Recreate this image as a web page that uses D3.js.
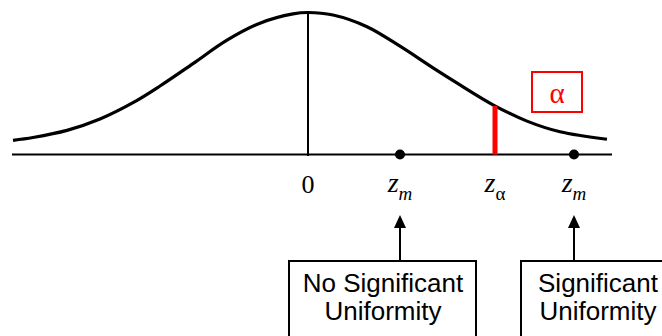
<!DOCTYPE html>
<html>
<head>
<meta charset="utf-8">
<script src="https://cdn.jsdelivr.net/npm/d3@7"></script>
<style>
  body { margin: 0; background: #fff; }
  svg { display: block; }
</style>
</head>
<body>
<svg id="chart" width="662" height="336"></svg>
<script>
// curve (z units, relative density)
const curveZ = [-2.95, -2.75, -2.41, -2.08, -1.75, -1.48, -1.15, -0.81, -0.48, -0.15, 0,
  0.25, 0.59, 0.92, 1.25, 1.52, 1.85, 2.19, 2.52, 2.99];
const curveDensity = [0.040, 0.048, 0.068, 0.100, 0.146, 0.193, 0.256, 0.322, 0.370, 0.396, 0.400,
  0.393, 0.360, 0.305, 0.244, 0.196, 0.140, 0.094, 0.064, 0.043];

const axisExtent = [-2.96, 3.04];
const peakDensity = 0.4;

const zmValues = [0.92, 2.66];
const zAlpha = 1.87;
const alphaDensity = 0.137;

const boxLabels = [
  ["No Significant", "Uniformity"],
  ["Significant", "Uniformity"]
];

const svg = d3.select("#chart");

const x = d3.scaleLinear().domain([-3, 3]).range([8, 608]);
const y = d3.scaleLinear().domain([0, 0.4]).range([154.5, 12.5]);

// horizontal axis
svg.append("line")
  .attr("x1", x(axisExtent[0])).attr("x2", x(axisExtent[1]))
  .attr("y1", y(0)).attr("y2", y(0))
  .attr("stroke", "#000").attr("stroke-width", 2);

// centre line at the mean
svg.append("line")
  .attr("x1", x(0)).attr("x2", x(0))
  .attr("y1", y(peakDensity)).attr("y2", y(0) + 1.5)
  .attr("stroke", "#000").attr("stroke-width", 2);

// density curve
const line = d3.line()
  .x((d, i) => x(curveZ[i]))
  .y(d => y(d))
  .curve(d3.curveCatmullRom.alpha(0.5));

svg.append("path")
  .attr("d", line(curveDensity))
  .attr("fill", "none")
  .attr("stroke", "#000")
  .attr("stroke-width", 3.2);

// critical value bar
svg.append("line")
  .attr("x1", x(zAlpha)).attr("x2", x(zAlpha))
  .attr("y1", y(alphaDensity)).attr("y2", y(0))
  .attr("stroke", "#ff0000").attr("stroke-width", 5);

// alpha box
svg.append("rect")
  .attr("x", 532).attr("y", 72).attr("width", 50).attr("height", 40)
  .attr("fill", "none").attr("stroke", "#ff0000").attr("stroke-width", 2);
svg.append("text")
  .attr("x", 557).attr("y", 103)
  .attr("text-anchor", "middle")
  .attr("font-family", "Liberation Serif, Times New Roman, serif")
  .attr("font-size", 29)
  .attr("fill", "#ff0000")
  .text("α");

// dots for z_m
svg.selectAll("circle.zm")
  .data(zmValues)
  .enter().append("circle")
  .attr("class", "zm")
  .attr("cx", d => x(d))
  .attr("cy", y(0))
  .attr("r", 5)
  .attr("fill", "#000");

const serif = "Liberation Serif, Times New Roman, serif";

// tick labels
svg.append("text")
  .attr("x", x(0)).attr("y", 193)
  .attr("text-anchor", "middle")
  .attr("font-family", serif)
  .attr("font-size", 26)
  .text("0");

const subLabels = zmValues.map(v => ({ z: v, sub: "m", italicSub: true }))
  .concat([{ z: zAlpha, sub: "α", italicSub: false }]);

subLabels.forEach(d => {
  const t = svg.append("text")
    .attr("x", x(d.z)).attr("y", 192)
    .attr("text-anchor", "middle")
    .attr("font-family", serif)
    .attr("font-size", 28);
  t.append("tspan").attr("font-style", "italic").text("z");
  t.append("tspan")
    .attr("dy", 8)
    .attr("font-size", 19)
    .attr("font-style", d.italicSub ? "italic" : "normal")
    .text(d.sub);
});

// arrows and boxes
const boxLeft = [289, 521];
const boxText = [383, 598];

zmValues.forEach((v, i) => {
  const ax = x(v);
  svg.append("line")
    .attr("x1", ax).attr("x2", ax)
    .attr("y1", 226).attr("y2", 261)
    .attr("stroke", "#000").attr("stroke-width", 2);
  svg.append("path")
    .attr("d", `M${ax},215 L${ax - 6},228 L${ax + 6},228 Z`)
    .attr("fill", "#000");

  svg.append("rect")
    .attr("x", boxLeft[i]).attr("y", 261)
    .attr("width", 187).attr("height", 100)
    .attr("fill", "#fff").attr("stroke", "#000").attr("stroke-width", 2);

  svg.append("g")
    .selectAll("text")
    .data(boxLabels[i])
    .enter().append("text")
    .attr("x", boxText[i])
    .attr("y", (d, j) => 292 + j * 28)
    .attr("text-anchor", "middle")
    .attr("font-family", "Liberation Sans, Arial, sans-serif")
    .attr("font-size", 26)
    .text(d => d);
});
</script>
</body>
</html>
